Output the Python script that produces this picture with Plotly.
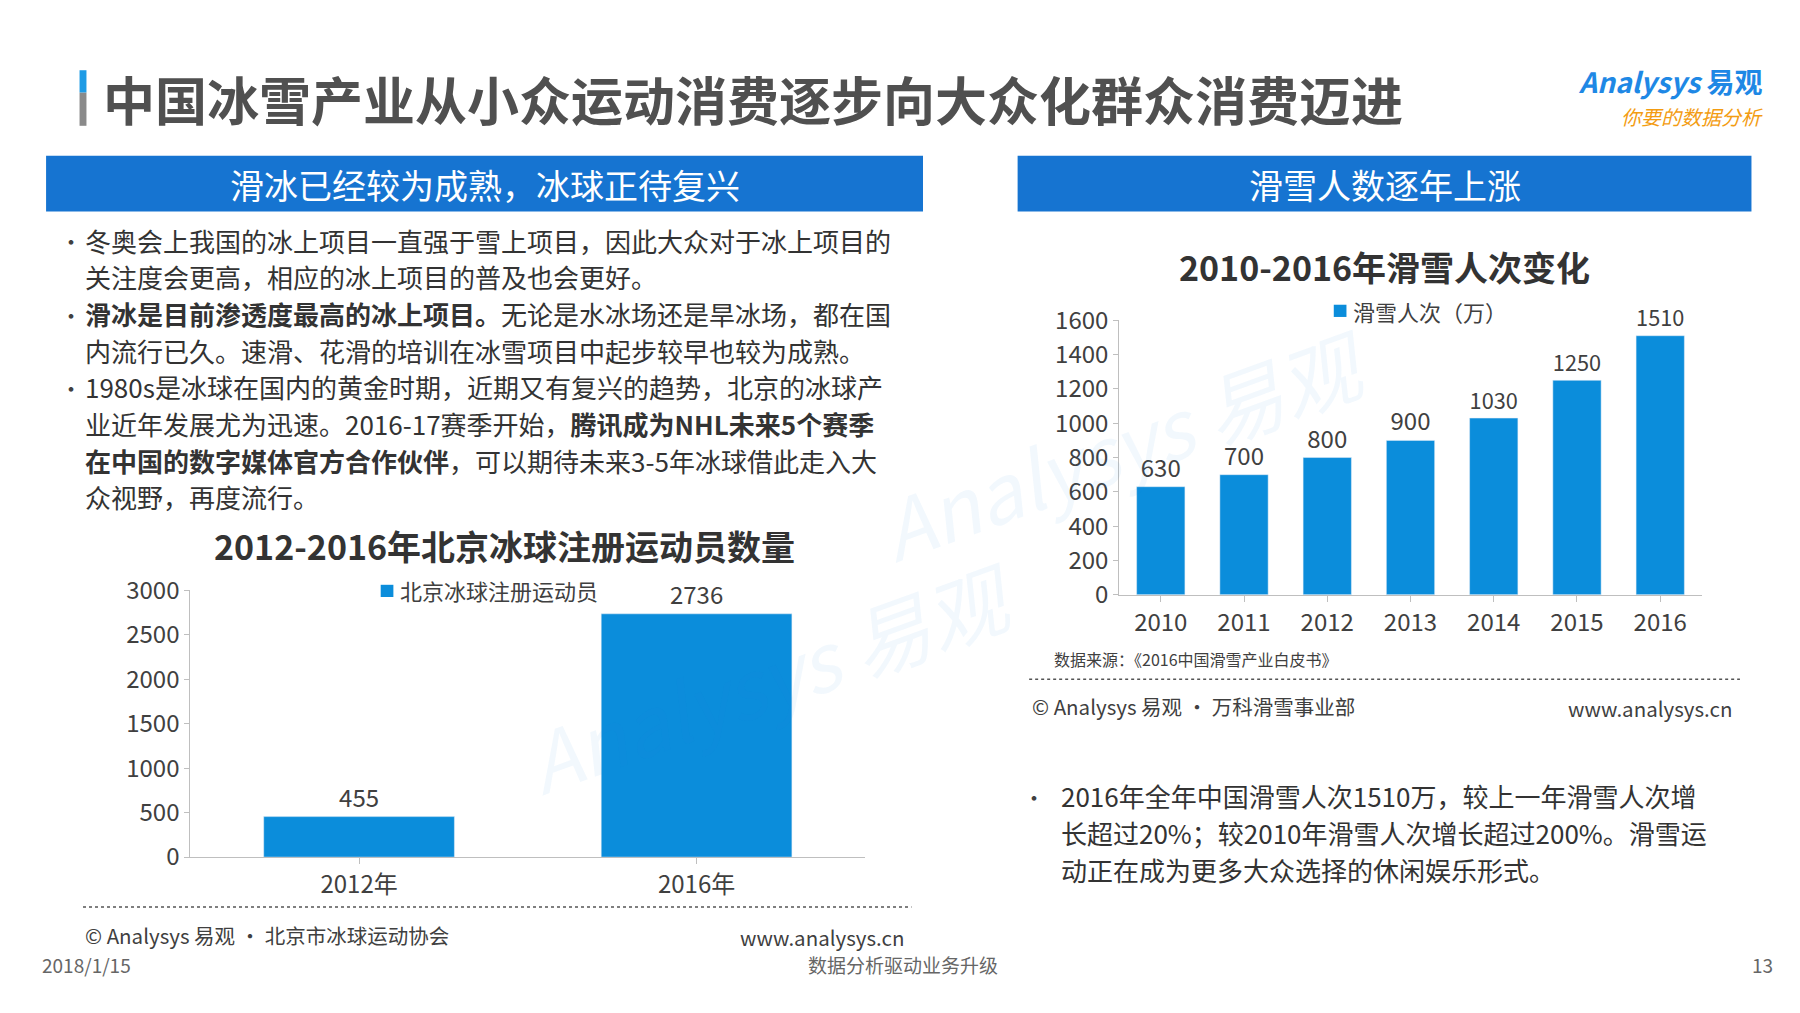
import plotly.graph_objects as go

W, H = 1560, 880  # reference design coordinates (displayed scale)
OFF = 7
def X(x): return (x - OFF) / W
def Y(y): return 1 - (y - OFF) / H

hockey_years = ["2012年", "2016年"]
hockey_vals = [455, 2736]
ski_years = ["2010", "2011", "2012", "2013", "2014", "2015", "2016"]
ski_vals = [630, 700, 800, 900, 1030, 1250, 1510]

FONT = "Noto Sans CJK SC"
BLUE = "#1674d1"
BAR = "#0b8ddb"
GRAY = "#404040"

fig = go.Figure()
fig.add_trace(go.Bar(x=hockey_years, y=hockey_vals, marker_color=BAR, width=0.565,
                     text=[str(v) for v in hockey_vals], textposition="outside",
                     textfont=dict(size=24, color=GRAY), cliponaxis=False,
                     name="北京冰球注册运动员", xaxis="x", yaxis="y", showlegend=False))
fig.add_trace(go.Bar(x=ski_years, y=ski_vals, marker_color=BAR, width=0.58,
                     text=[str(v) for v in ski_vals], textposition="outside",
                     textfont=dict(size=24, color=GRAY), cliponaxis=False,
                     name="滑雪人次（万）", xaxis="x2", yaxis="y2", showlegend=False))

ax = dict(showgrid=False, zeroline=False, tickfont=dict(size=24, color=GRAY, family=FONT))
fig.update_layout(
    width=1800, height=1013, margin=dict(l=0, r=0, t=0, b=0),
    paper_bgcolor="white", plot_bgcolor="rgba(0,0,0,0)",
    font=dict(family=FONT, color=GRAY),
    xaxis=dict(ax, domain=[X(165), X(750)], showline=True, linecolor="#bfbfbf",
               ticks="outside", ticklen=6, tickcolor="#bfbfbf", anchor="y"),
    yaxis=dict(ax, domain=[Y(753), Y(513)], range=[0, 3000], dtick=500,
               showline=True, linecolor="#bfbfbf", ticks="outside", ticklen=5,
               tickcolor="#bfbfbf", anchor="x"),
    xaxis2=dict(ax, domain=[X(970), X(1475)], showline=True, linecolor="#bfbfbf",
                ticks="outside", ticklen=6, tickcolor="#bfbfbf", anchor="y2"),
    yaxis2=dict(ax, domain=[Y(517), Y(270)], range=[0, 1600], dtick=200,
                showline=True, linecolor="#bfbfbf", ticks="outside", ticklen=5,
                tickcolor="#bfbfbf", anchor="x2"),
)

shapes = []
anns = []
def txt(x, y, s, size=22, color=GRAY, xanchor="left", bold=False, family=FONT):
    anns.append(dict(x=X(x), y=Y(y), xref="paper", yref="paper", text=(f"<b>{s}</b>" if bold else s),
                     showarrow=False, xanchor=xanchor, yanchor="middle",
                     font=dict(size=size, color=color, family=family)))

# title
shapes.append(dict(type="rect", xref="paper", yref="paper", x0=X(69), x1=X(75), y0=Y(95), y1=Y(65),
                   fillcolor="#8a8a8a", line_width=0))
shapes.append(dict(type="rect", xref="paper", yref="paper", x0=X(69), x1=X(75), y0=Y(65), y1=Y(45),
                   fillcolor="#1e9be5", line_width=0))
txt(88, 70, "中国冰雪产业从小众运动消费逐步向大众化群众消费迈进", size=52, color="#505050", bold=True)
txt(1530, 55, "<i>Analysys</i> 易观", size=28, color="#1e88e5", xanchor="right", bold=True)
txt(1530, 87, "<i>你要的数据分析</i>", size=20, color="#f39c12", xanchor="right")

# headers
for x0, x1, s in [(40, 800, "滑冰已经较为成熟，冰球正待复兴"), (882, 1518, "滑雪人数逐年上涨")]:
    shapes.append(dict(type="rect", xref="paper", yref="paper", x0=X(x0), x1=X(x1), y0=Y(172), y1=Y(122),
                       fillcolor=BLUE, line_width=0))
    txt((x0 + x1) / 2, 148, s, size=34, color="white", xanchor="center")

# left bullets
lines = [
    (198, "冬奥会上我国的冰上项目一直强于雪上项目，因此大众对于冰上项目的", True),
    (231, "关注度会更高，相应的冰上项目的普及也会更好。", False),
    (264, "<b>滑冰是目前渗透度最高的冰上项目。</b>无论是水冰场还是旱冰场，都在国", True),
    (297, "内流行已久。速滑、花滑的培训在冰雪项目中起步较早也较为成熟。", False),
    (330, "1980s是冰球在国内的黄金时期，近期又有复兴的趋势，北京的冰球产", True),
    (363, "业近年发展尤为迅速。2016-17赛季开始，<b>腾讯成为NHL未来5个赛季</b>", False),
    (396, "<b>在中国的数字媒体官方合作伙伴</b>，可以期待未来3-5年冰球借此走入大", False),
    (429, "众视野，再度流行。", False),
]
for y, s, b in lines:
    if b:
        txt(50, y, "•", size=22)
    txt(72, y, s, size=26, color="#333333")

# left chart
txt(437, 473, "2012-2016年北京冰球注册运动员数量", size=34, color="#333333", xanchor="center", bold=True)
shapes.append(dict(type="rect", xref="paper", yref="paper", x0=X(330), x1=X(341), y0=Y(519), y1=Y(508),
                   fillcolor=BAR, line_width=0))
txt(345, 513, "北京冰球注册运动员", size=22)
shapes.append(dict(type="line", xref="paper", yref="paper", x0=X(72), x1=X(790), y0=Y(798), y1=Y(798),
                   line=dict(color="#555", width=1.5, dash="dot")))
txt(72, 823, "© Analysys 易观 · 北京市冰球运动协会", size=20.5)
txt(785, 825, "www.analysys.cn", size=20.5, xanchor="right")

# right chart
txt(1200, 222, "2010-2016年滑雪人次变化", size=34, color="#333333", xanchor="center", bold=True)
shapes.append(dict(type="rect", xref="paper", yref="paper", x0=X(1156), x1=X(1167), y0=Y(267), y1=Y(256),
                   fillcolor=BAR, line_width=0))
txt(1171, 262, "滑雪人次（万）", size=22)
txt(912, 575, "数据来源：《2016中国滑雪产业白皮书》", size=16)
shapes.append(dict(type="line", xref="paper", yref="paper", x0=X(892), x1=X(1508), y0=Y(593), y1=Y(593),
                   line=dict(color="#555", width=1.5, dash="dot")))
txt(893, 617, "© Analysys 易观 · 万科滑雪事业部", size=20.5)
txt(1503, 619, "www.analysys.cn", size=20.5, xanchor="right")

txt(885, 698, "•", size=22)
for y, s in [(698, "2016年全年中国滑雪人次1510万，较上一年滑雪人次增"),
             (731, "长超过20%；较2010年滑雪人次增长超过200%。滑雪运"),
             (764, "动正在成为更多大众选择的休闲娱乐形式。")]:
    txt(918, y, s, size=26, color="#333333")

# footer
txt(35, 850, "2018/1/15", size=19, color="#666")
txt(783, 850, "数据分析驱动业务升级", size=19, color="#666", xanchor="center")
txt(1538, 850, "13", size=19, color="#666", xanchor="right")

# faint watermarks
for x, y in [(440, 590), (1200, 380)]:
    anns.append(dict(x=X(x), y=Y(y), xref="paper", yref="paper", text="<i>Analysys 易观</i>",
                     showarrow=False, textangle=-20, font=dict(size=80, color="rgba(30,136,229,0.06)", family=FONT)))

fig.update_layout(shapes=shapes, annotations=anns)
fig.write_html("out.html")
